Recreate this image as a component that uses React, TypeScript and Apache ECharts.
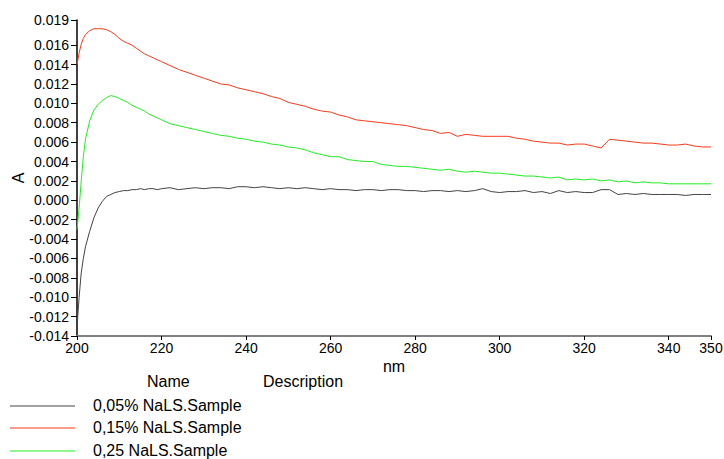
import React, { useEffect, useRef } from "react";
import * as echarts from "echarts";

const wavelengths = [
  200, 200.5, 201, 201.5, 202, 203, 204, 205, 206, 207, 208, 209, 210, 211, 212, 213, 214, 215, 216, 217, 218, 219, 220,
  222, 224, 226, 228, 230, 232, 234, 236, 238, 240, 242, 244, 246, 248, 250, 252, 254, 256, 258, 260,
  262, 264, 266, 268, 270, 272, 274, 276, 278, 280, 282, 284, 286, 288, 290, 292, 294, 296, 298, 300,
  302, 304, 306, 308, 310, 312, 314, 316, 318, 320, 322, 324, 326, 328, 330, 332, 334, 336, 338, 340,
  342, 344, 346, 348, 350,
];

const sample005 = [
  -0.0131, -0.01, -0.0075, -0.006, -0.0048, -0.0032, -0.0018, -0.0008, -0.0001, 0.0004, 0.0006, 0.0008, 0.0009, 0.001, 0.001, 0.0011, 0.0011, 0.0012, 0.0011, 0.0012, 0.0012, 0.0011, 0.0012,
  0.0013, 0.0011, 0.0012, 0.0013, 0.0012, 0.0013, 0.0013, 0.0012, 0.0014, 0.0014, 0.0013, 0.0014, 0.0013, 0.0012, 0.0013, 0.0012, 0.0013, 0.0012, 0.0011, 0.0012,
  0.0011, 0.0011, 0.001, 0.0011, 0.0011, 0.001, 0.0011, 0.0011, 0.001, 0.001, 0.0009, 0.001, 0.001, 0.0009, 0.001, 0.0009, 0.001, 0.0012, 0.0009, 0.0008,
  0.0009, 0.0009, 0.001, 0.0008, 0.0009, 0.0007, 0.001, 0.0008, 0.0009, 0.0008, 0.0008, 0.0011, 0.0011, 0.0006, 0.0007, 0.0006, 0.0007, 0.0006, 0.0006, 0.0006,
  0.0006, 0.0005, 0.0006, 0.0006, 0.0006,
];

const sample015 = [
  0.014, 0.0152, 0.0161, 0.0167, 0.0171, 0.0175, 0.0177, 0.0177, 0.0177, 0.0176, 0.0174, 0.0171, 0.0167, 0.0164, 0.0162, 0.016, 0.0157, 0.0154, 0.0151, 0.0149, 0.0147, 0.0145, 0.0143,
  0.0139, 0.0135, 0.0132, 0.0129, 0.0126, 0.0123, 0.012, 0.0119, 0.0116, 0.0114, 0.0112, 0.011, 0.0107, 0.0105, 0.0101, 0.0099, 0.0097, 0.0094, 0.0092, 0.0091,
  0.0088, 0.0086, 0.0083, 0.0082, 0.0081, 0.008, 0.0079, 0.0078, 0.0077, 0.0075, 0.0073, 0.0072, 0.0069, 0.007, 0.0066, 0.0068, 0.0067, 0.0066, 0.0066, 0.0066,
  0.0066, 0.0064, 0.0063, 0.0061, 0.006, 0.0059, 0.0059, 0.0057, 0.0058, 0.0058, 0.0056, 0.0054, 0.0063, 0.0062, 0.0061, 0.006, 0.0059, 0.0059, 0.0058, 0.0057,
  0.0057, 0.0058, 0.0056, 0.0055, 0.0055,
];

const sample025 = [
  -0.003, -0.0008, 0.002, 0.0045, 0.0063, 0.0082, 0.0093, 0.0099, 0.0103, 0.0106, 0.0108, 0.0107, 0.0105, 0.0103, 0.0101, 0.0098, 0.0096, 0.0094, 0.0092, 0.0089, 0.0087, 0.0085, 0.0083,
  0.0079, 0.0077, 0.0075, 0.0073, 0.0071, 0.0069, 0.0067, 0.0066, 0.0064, 0.0063, 0.0061, 0.006, 0.0058, 0.0057, 0.0055, 0.0054, 0.0052, 0.0049, 0.0047, 0.0045,
  0.0045, 0.0042, 0.0041, 0.004, 0.004, 0.0037, 0.0036, 0.0035, 0.0035, 0.0034, 0.0033, 0.0032, 0.0031, 0.0032, 0.003, 0.0029, 0.003, 0.0029, 0.0028, 0.0028,
  0.0027, 0.0026, 0.0025, 0.0025, 0.0024, 0.0023, 0.0024, 0.0021, 0.0022, 0.0021, 0.0022, 0.002, 0.0021, 0.0019, 0.002, 0.0018, 0.0019, 0.0018, 0.0018, 0.0017,
  0.0017, 0.0017, 0.0017, 0.0017, 0.0017,
];

const seriesNames = ["0,05% NaLS.Sample", "0,15% NaLS.Sample", "0,25 NaLS.Sample"];
const seriesColors = ["#444444", "#ff3a1a", "#22ee22"];
const xTicks = [200, 220, 240, 260, 280, 300, 320, 340, 350];
const yTicks = [-0.014, -0.012, -0.01, -0.008, -0.006, -0.004, -0.002, 0, 0.002, 0.004, 0.006, 0.008, 0.01, 0.012, 0.014, 0.016, 0.0186];

const FONT = "Liberation Sans, Arial, sans-serif";

export default function App() {
  const ref = useRef<HTMLDivElement>(null);
  useEffect(() => {
    if (!ref.current) return;
    const chart = echarts.init(ref.current, null, { renderer: "svg" });
    const all = [sample005, sample015, sample025];
    const legendRowsY = [406, 428, 451];
    chart.setOption({
      animation: false,
      backgroundColor: "#ffffff",
      textStyle: { fontFamily: FONT },
      grid: { left: 77, right: 13, top: 20, bottom: 123, containLabel: false, outerBoundsMode: "none" },
      xAxis: {
        type: "value",
        min: 200,
        max: 350,
        name: "nm",
        nameLocation: "middle",
        nameGap: 22,
        nameMoveOverlap: false,
        nameTextStyle: { fontSize: 16, color: "#000", fontFamily: FONT },
        axisLine: { onZero: false, lineStyle: { color: "#808080", width: 2 } },
        axisTick: { show: true, customValues: xTicks, length: 4, lineStyle: { color: "#000" } },
        axisLabel: { customValues: xTicks, fontSize: 14, color: "#000", margin: 5, fontFamily: FONT },
        splitLine: { show: false },
      },
      yAxis: {
        type: "value",
        min: -0.014,
        max: 0.0186,
        name: "A",
        nameLocation: "middle",
        nameGap: 51,
        nameMoveOverlap: false,
        nameTextStyle: { fontSize: 16, color: "#000", fontFamily: FONT },
        axisLine: { show: true, onZero: false, lineStyle: { color: "#000", width: 1.5 } },
        axisTick: { show: true, customValues: yTicks, length: 6, lineStyle: { color: "#000" } },
        axisLabel: {
          customValues: yTicks,
          fontSize: 14,
          color: "#000",
          margin: 8,
          fontFamily: FONT,
          formatter: (v: number) => v.toFixed(3),
        },
        splitLine: { show: false },
      },
      series: all.map((arr, i) => ({
        name: seriesNames[i],
        type: "line",
        showSymbol: false,
        symbol: "none",
        data: wavelengths.map((w, j) => [w, arr[j]]),
        lineStyle: { color: seriesColors[i], width: 1 },
        itemStyle: { color: seriesColors[i] },
      })),
      graphic: [
        { type: "text", left: 147, top: 373, style: { text: "Name", font: `16px ${FONT}`, fill: "#000" } },
        { type: "text", left: 263, top: 373, style: { text: "Description", font: `16px ${FONT}`, fill: "#000" } },
        ...seriesNames.flatMap((n, i) => [
          {
            type: "line",
            shape: { x1: 10, y1: legendRowsY[i], x2: 75, y2: legendRowsY[i] },
            style: { stroke: seriesColors[i], lineWidth: 1 },
          },
          {
            type: "text",
            left: 93,
            top: legendRowsY[i] - 9,
            style: { text: n, font: `16px ${FONT}`, fill: "#000" },
          },
        ]),
      ],
    });
    return () => chart.dispose();
  }, []);
  return (
    <div
      ref={ref}
      style={{ position: "fixed", left: 0, top: 0, width: 724, height: 459, background: "#fff" }}
    />
  );
}
